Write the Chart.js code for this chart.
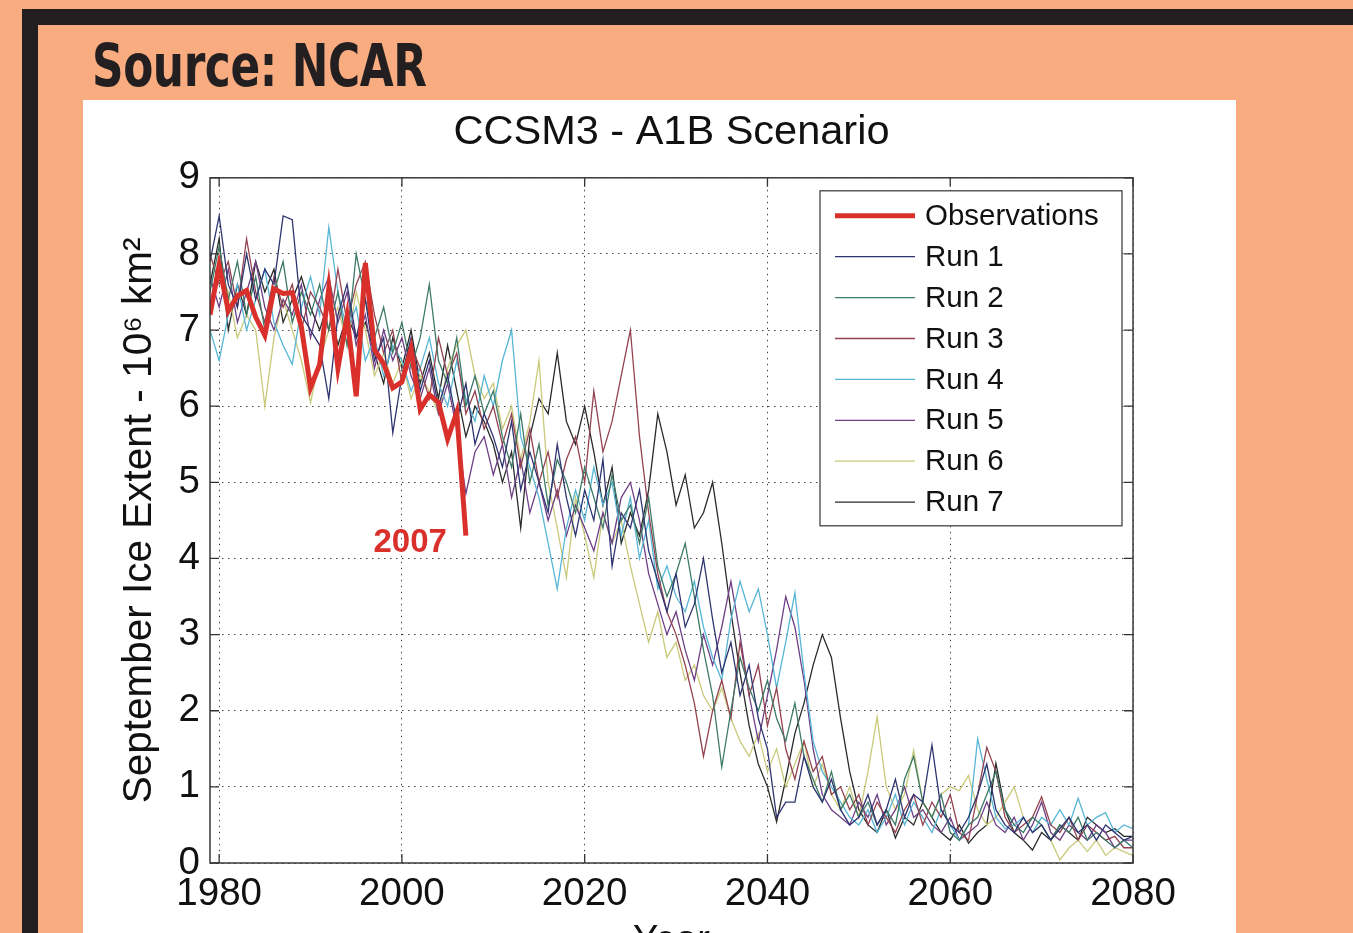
<!DOCTYPE html>
<html lang="en">
<head>
<meta charset="UTF-8">
<title>CCSM3 - A1B Scenario</title>
<script src="https://cdn.jsdelivr.net/npm/chart.js@4.4.0/dist/chart.umd.min.js"></script>
<style>
  html, body { margin:0; padding:0; overflow:hidden; background:#f9ac80; width:1353px; height:933px; }
  #frame { position:absolute; left:22px; top:9px; width:1400px; height:1000px; border:16px solid #231f20; background:#f9ac80; }
  #source { position:absolute; left:92px; top:37px; margin:0; font:bold 58px 'Liberation Sans Narrow', 'DejaVu Sans Condensed', sans-serif; line-height:58px; color:#231f20; letter-spacing:-0.5px; white-space:nowrap; transform:scaleX(0.84); transform-origin:0 0; }
  #panel { position:absolute; left:83px; top:100px; width:1153px; height:880px; background:#fff; }
</style>
</head>
<body>
<div id="frame"></div>
<h1 id="source">Source: NCAR</h1>
<div id="panel"><canvas id="ice_chart" width="1153" height="880"></canvas></div>
<script>
// observed September extent (10^6 km^2)
const obsYears = [1979, 1980, 1981, 1982, 1983, 1984, 1985, 1986, 1987, 1988, 1989,
  1990, 1991, 1992, 1993, 1994, 1995, 1996, 1997, 1998, 1999,
  2000, 2001, 2002, 2003, 2004, 2005, 2006, 2007];
const observations = [7.2, 7.85, 7.25, 7.45, 7.52, 7.17, 6.93, 7.54, 7.48, 7.49, 7.04,
  6.24, 6.55, 7.55, 6.5, 7.18, 6.13, 7.88, 6.74, 6.56, 6.24,
  6.32, 6.75, 5.96, 6.15, 6.05, 5.57, 5.92, 4.3];

// model years
const runYears = [1979,
  1980, 1981, 1982, 1983, 1984, 1985, 1986, 1987, 1988, 1989,
  1990, 1991, 1992, 1993, 1994, 1995, 1996, 1997, 1998, 1999,
  2000, 2001, 2002, 2003, 2004, 2005, 2006, 2007, 2008, 2009,
  2010, 2011, 2012, 2013, 2014, 2015, 2016, 2017, 2018, 2019,
  2020, 2021, 2022, 2023, 2024, 2025, 2026, 2027, 2028, 2029,
  2030, 2031, 2032, 2033, 2034, 2035, 2036, 2037, 2038, 2039,
  2040, 2041, 2042, 2043, 2044, 2045, 2046, 2047, 2048, 2049,
  2050, 2051, 2052, 2053, 2054, 2055, 2056, 2057, 2058, 2059,
  2060, 2061, 2062, 2063, 2064, 2065, 2066, 2067, 2068, 2069,
  2070, 2071, 2072, 2073, 2074, 2075, 2076, 2077, 2078, 2079,
  2080];

const run1 = [7.9,
  8.5, 7.6, 7.3, 8.0, 7.4, 7.8, 7.6, 8.5, 8.45, 7.2,
  7.0, 6.8, 6.1, 7.2, 7.6, 6.9, 7.4, 6.6, 6.9, 5.65,
  6.4, 6.9, 6.2, 6.6, 6.0, 6.4, 5.8, 6.3, 5.5, 5.9,
  5.6, 5.2, 5.8, 4.9, 5.4, 5.0, 4.6, 5.5, 4.8, 4.3,
  4.9, 4.5, 5.3, 3.9, 4.6, 4.4, 4.9, 4.1, 3.7, 3.3,
  3.8, 3.1, 3.4, 4.0, 3.2, 2.5, 2.9, 2.2, 2.6, 1.9,
  1.5, 0.6, 0.8, 0.8, 1.4, 1.0, 0.8, 1.1, 0.7, 0.5,
  0.6, 0.9, 0.5, 0.7, 1.1, 0.6, 0.9, 0.8, 1.55, 0.7,
  0.5, 0.4, 0.6, 0.9, 1.3, 0.7, 0.5, 0.4, 0.6, 0.4,
  0.5, 0.3, 0.45, 0.6, 0.4, 0.5, 0.3, 0.5, 0.4, 0.3,
  0.35];
const run2 = [7.5,
  8.1, 7.4, 7.9, 7.2, 7.7, 7.0, 7.5, 7.9, 7.1, 7.5,
  7.2, 7.6, 7.0, 7.5, 6.8, 8.0, 7.4, 6.9, 7.3, 6.7,
  7.1, 6.5, 6.9, 7.6, 6.6, 6.3, 6.9, 6.0, 6.4, 5.9,
  6.2, 5.6, 5.2, 5.9, 5.0, 5.5, 4.7, 5.3, 5.0, 4.6,
  5.2, 4.8, 4.4, 5.1, 4.5, 4.7, 4.2, 4.8, 3.9, 3.5,
  3.8, 4.2, 3.5, 2.8, 2.2, 1.26, 2.0, 2.7, 2.3, 2.0,
  2.4, 1.9, 1.6, 2.1, 1.4, 1.1, 0.8, 1.2, 0.7, 0.9,
  0.6, 0.8, 0.5, 0.7, 0.5, 1.1, 1.4, 0.8, 0.6, 0.9,
  0.4, 0.3, 0.5, 0.6, 0.9, 1.2, 0.7, 0.5, 0.4, 0.6,
  0.5, 0.3, 0.5, 0.4, 0.6, 0.3, 0.4, 0.3, 0.2, 0.3,
  0.2];
const run3 = [8.0,
  7.6, 7.9, 7.3, 8.2, 7.5, 7.1, 7.7, 7.3, 7.6, 7.0,
  7.5, 7.3, 7.0, 7.8, 7.1, 7.6, 7.9, 7.2, 6.7, 7.0,
  6.3, 6.8, 6.5, 6.1, 6.9, 6.4, 6.7, 5.9, 6.2, 5.7,
  6.0, 5.5, 5.9, 5.2, 5.7, 5.0, 5.4, 4.8, 5.3, 5.6,
  5.0, 6.2, 5.4, 5.8, 6.4, 7.0, 5.6, 4.6, 3.8, 3.3,
  3.0, 2.6, 2.1, 1.4, 2.0, 2.4, 1.9, 2.9, 2.2, 2.6,
  1.8, 2.3, 1.5, 1.1, 1.6, 1.2, 1.4, 0.9, 1.0, 0.7,
  0.9, 0.5, 0.8, 0.6, 0.4, 0.7, 0.9, 0.5, 0.8, 0.6,
  0.9, 0.4, 0.3, 0.9, 1.52, 1.2, 0.6, 0.4, 0.5, 0.6,
  0.87, 0.5, 0.4, 0.6, 0.3, 0.5, 0.4, 0.3, 0.35, 0.2,
  0.2];
const run4 = [7.0,
  6.6, 7.2, 7.6, 7.0, 7.4, 7.8, 7.1, 6.8, 6.55, 7.3,
  7.7, 7.2, 8.35, 7.5, 7.0, 7.3, 6.6, 6.9, 6.4, 6.8,
  6.6, 6.2, 6.5, 6.9, 6.3, 6.0, 6.6, 6.1, 5.8, 6.4,
  6.0, 6.6, 7.0, 5.6, 5.2, 4.8, 4.2, 3.6, 4.4, 4.9,
  4.5, 5.2, 4.7, 5.0, 4.3, 4.8, 4.0, 4.5, 3.6, 3.9,
  3.5, 3.3, 3.7, 3.1, 2.7, 2.4, 3.2, 3.7, 3.3, 3.6,
  3.0, 2.3, 2.9, 3.55, 2.5, 1.6, 1.2, 1.0, 0.8, 0.6,
  0.5, 0.7, 0.4, 0.6, 0.9, 0.5, 0.8, 0.6, 0.4, 0.7,
  0.5, 0.3, 0.5, 1.63, 1.1, 0.6, 0.45, 0.5, 0.6, 0.4,
  0.6, 0.5, 0.7, 0.5, 0.85, 0.5, 0.6, 0.66, 0.4, 0.5,
  0.45];
const run5 = [7.7,
  7.3, 7.8, 7.1, 7.5, 7.9, 7.3, 7.0, 7.4, 7.2, 7.6,
  6.9, 7.4, 7.7, 7.1, 7.5, 6.8, 7.2, 6.5, 7.0, 6.6,
  6.9, 6.4, 6.1, 6.5, 5.9, 6.3, 5.7, 4.85, 5.4, 5.6,
  5.1, 5.5, 4.8, 5.3, 4.6, 5.0, 4.5, 4.9, 4.3, 4.7,
  4.4, 4.1, 4.6, 4.2, 4.8, 5.0, 4.5, 3.8, 3.4, 3.0,
  3.3, 2.8, 2.4, 3.0, 2.6, 3.1, 3.7, 3.0, 2.2, 1.6,
  2.2, 2.8, 3.5, 3.1, 2.4, 1.5, 0.9, 0.7, 0.6, 0.5,
  0.8, 0.6, 0.9, 0.5, 0.7, 1.0, 0.6, 0.7, 0.5, 0.4,
  0.6, 0.3, 0.4, 0.5, 0.8, 0.5, 0.4, 0.6, 0.3, 0.5,
  0.8, 0.4, 0.3, 0.5, 0.4, 0.3, 0.5, 0.4, 0.2, 0.3,
  0.3];
const run6 = [7.3,
  7.8, 7.5, 6.9, 7.2, 7.0, 6.0, 6.9, 7.4, 7.0, 6.6,
  6.05, 6.6, 7.0, 7.3, 6.8, 7.5, 7.0, 6.4, 6.7, 6.3,
  6.6, 6.1, 6.4, 6.2, 5.9, 6.5, 6.8, 7.0, 6.4, 6.1,
  6.3, 5.7, 6.0, 5.3, 5.8, 6.6, 5.0, 4.4, 3.75, 4.8,
  4.3, 3.75, 4.6, 4.2, 4.5, 3.9, 3.4, 2.9, 3.3, 2.7,
  2.9, 2.4, 2.6, 2.2, 2.0, 2.3, 1.9, 1.6, 1.4, 1.7,
  1.2, 1.5, 1.0, 1.3, 1.6, 1.0, 1.3, 0.9, 0.7, 1.0,
  0.6, 1.2, 1.92, 1.0, 0.7, 0.9, 1.48, 0.8, 0.6, 0.9,
  1.0, 0.95, 1.15, 0.7, 0.5, 0.6, 0.8, 1.0, 0.6, 0.4,
  0.5, 0.3, 0.04, 0.2, 0.3, 0.15, 0.3, 0.1, 0.2, 0.15,
  0.1];
const run7 = [7.6,
  8.2, 7.0, 7.6, 7.2, 7.9, 7.5, 7.8, 7.1, 7.4, 7.7,
  7.3, 7.0, 7.4, 6.8, 7.2, 6.9, 7.1, 6.7, 6.3, 6.9,
  6.5, 7.0, 6.3, 6.7, 6.1, 6.8, 6.2, 5.6, 6.0, 5.8,
  5.5, 5.0, 5.4, 4.4, 5.6, 6.1, 5.9, 6.7, 5.8, 5.5,
  6.0, 5.4, 4.7, 5.2, 4.2, 4.6, 4.3, 4.9, 5.9, 5.4,
  4.7, 5.1, 4.4, 4.6, 5.0, 4.2, 3.3, 2.5, 1.8, 1.3,
  1.0, 0.54, 1.1, 1.7, 2.1, 2.6, 3.0, 2.7, 1.9, 1.2,
  0.7, 0.5, 0.4, 0.7, 0.33, 0.6, 0.5, 0.8, 0.6, 0.4,
  0.3, 0.5, 0.26, 0.4, 0.5, 1.31, 0.7, 0.4, 0.3, 0.17,
  0.4, 0.3, 0.5, 0.4, 0.3, 0.6, 0.5, 0.4, 0.45, 0.35,
  0.35];

const xTicks = [1980, 2000, 2020, 2040, 2060, 2080];
const yTicks = [0, 1, 2, 3, 4, 5, 6, 7, 8, 9];

const fontName = "'Liberation Sans', Arial, Helvetica, sans-serif";
const obsRed = '#d9302c';

function pairs(years, vals) {
  return years.map((yr, i) => ({x: yr, y: vals[i]}));
}

function runSet(label, vals, color) {
  return {
    label: label,
    data: pairs(runYears, vals),
    borderColor: color,
    backgroundColor: color,
    borderWidth: 1.3,
    pointRadius: 0,
    tension: 0,
    fill: false
  };
}

// MATLAB style: box, inward ticks, legend box, 2007 label
const matlabBits = {
  id: 'matlabBits',
  afterDatasetsDraw(chart) {
    const ctx = chart.ctx;
    const a = chart.chartArea;
    const xs = chart.scales.x, ys = chart.scales.y;
    ctx.save();
    // inward tick marks on all four sides
    ctx.strokeStyle = '#333';
    ctx.lineWidth = 1.3;
    ctx.beginPath();
    xTicks.forEach(v => {
      const px = xs.getPixelForValue(v);
      ctx.moveTo(px, a.bottom); ctx.lineTo(px, a.bottom - 9);
      ctx.moveTo(px, a.top); ctx.lineTo(px, a.top + 9);
    });
    yTicks.forEach(v => {
      const py = ys.getPixelForValue(v);
      ctx.moveTo(a.left, py); ctx.lineTo(a.left + 9, py);
      ctx.moveTo(a.right, py); ctx.lineTo(a.right - 9, py);
    });
    ctx.stroke();
    ctx.lineWidth = 1.5;
    ctx.strokeStyle = '#3a3a3a';
    ctx.strokeRect(a.left, a.top, a.right - a.left, a.bottom - a.top);

    // 2007 label next to the last observation
    const last = obsYears.length - 1;
    ctx.fillStyle = obsRed;
    ctx.font = 'bold 33px ' + fontName;
    ctx.textAlign = 'right';
    ctx.textBaseline = 'middle';
    ctx.fillText(String(obsYears[last]), xs.getPixelForValue(obsYears[last]) - 19, ys.getPixelForValue(observations[last]) + 7);

    // legend
    const bx = a.right - 313, by = a.top + 13, bw = 302, bh = 335;
    ctx.fillStyle = '#fff';
    ctx.fillRect(bx, by, bw, bh);
    ctx.strokeStyle = '#444';
    ctx.lineWidth = 1.3;
    ctx.strokeRect(bx, by, bw, bh);
    ctx.font = '29.5px ' + fontName;
    ctx.textAlign = 'left';
    ctx.textBaseline = 'middle';
    chart.data.datasets.forEach((ds, i) => {
      const ry = by + 25 + i * 40.9;
      ctx.strokeStyle = ds.borderColor;
      ctx.lineWidth = ds.borderWidth;
      ctx.beginPath();
      ctx.moveTo(bx + 15, ry); ctx.lineTo(bx + 95, ry);
      ctx.stroke();
      ctx.fillStyle = '#111';
      ctx.fillText(ds.label, bx + 105, ry + 1);
    });
    ctx.restore();
  }
};

const ctx = document.getElementById('ice_chart').getContext('2d');
const chart = new Chart(ctx, {
  type: 'line',
  data: {
    datasets: [
      {
        label: 'Observations',
        data: pairs(obsYears, observations),
        borderColor: obsRed,
        backgroundColor: obsRed,
        borderWidth: 5,
        pointRadius: 0,
        tension: 0,
        fill: false
      },
      runSet('Run 1', run1, '#2e3470'),
      runSet('Run 2', run2, '#3e7a68'),
      runSet('Run 3', run3, '#93424f'),
      runSet('Run 4', run4, '#57b6d6'),
      runSet('Run 5', run5, '#6f3f86'),
      runSet('Run 6', run6, '#c9c97a'),
      runSet('Run 7', run7, '#2a2a2a')
    ]
  },
  options: {
    responsive: false,
    devicePixelRatio: 1,
    animation: false,
    layout: { padding: { left: 0, right: 103, top: 0, bottom: 0 } },
    plugins: {
      legend: { display: false },
      tooltip: { enabled: false },
      title: {
        display: true,
        fullSize: false,
        text: 'CCSM3 - A1B Scenario',
        color: '#111',
        font: { family: fontName, size: 41.5, weight: 'normal' },
        padding: { top: 8, bottom: 20 }
      }
    },
    scales: {
      x: {
        type: 'linear',
        min: 1979,
        max: 2080,
        afterBuildTicks: s => { s.ticks = xTicks.map(v => ({value: v})); },
        afterFit: s => { s.height = 117; },
        grid: { color: '#444', lineWidth: 1, drawTicks: false },
        border: { display: false, dash: [1.5, 4.5] },
        ticks: {
          padding: 8,
          maxRotation: 0,
          color: '#111',
          font: { family: fontName, size: 38.5 },
          callback: v => String(v)
        },
        title: {
          display: true,
          text: 'Year',
          color: '#111',
          font: { family: fontName, size: 38 },
          padding: { top: 0, bottom: 16 }
        }
      },
      y: {
        min: 0,
        max: 9,
        afterBuildTicks: s => { s.ticks = yTicks.map(v => ({value: v})); },
        afterFit: s => { s.width = 127; },
        grid: { color: '#444', lineWidth: 1, drawTicks: false },
        border: { display: false, dash: [1.5, 4.5] },
        ticks: {
          padding: 10,
          color: '#111',
          font: { family: fontName, size: 38.5 },
          callback: v => String(v)
        },
        title: {
          display: true,
          text: 'September Ice Extent - 10\u2076 km\u00b2',
          color: '#111',
          font: { family: fontName, size: 40.5 },
          padding: { top: 33, bottom: 0 }
        }
      }
    }
  },
  plugins: [matlabBits]
});
</script>
</body>
</html>
